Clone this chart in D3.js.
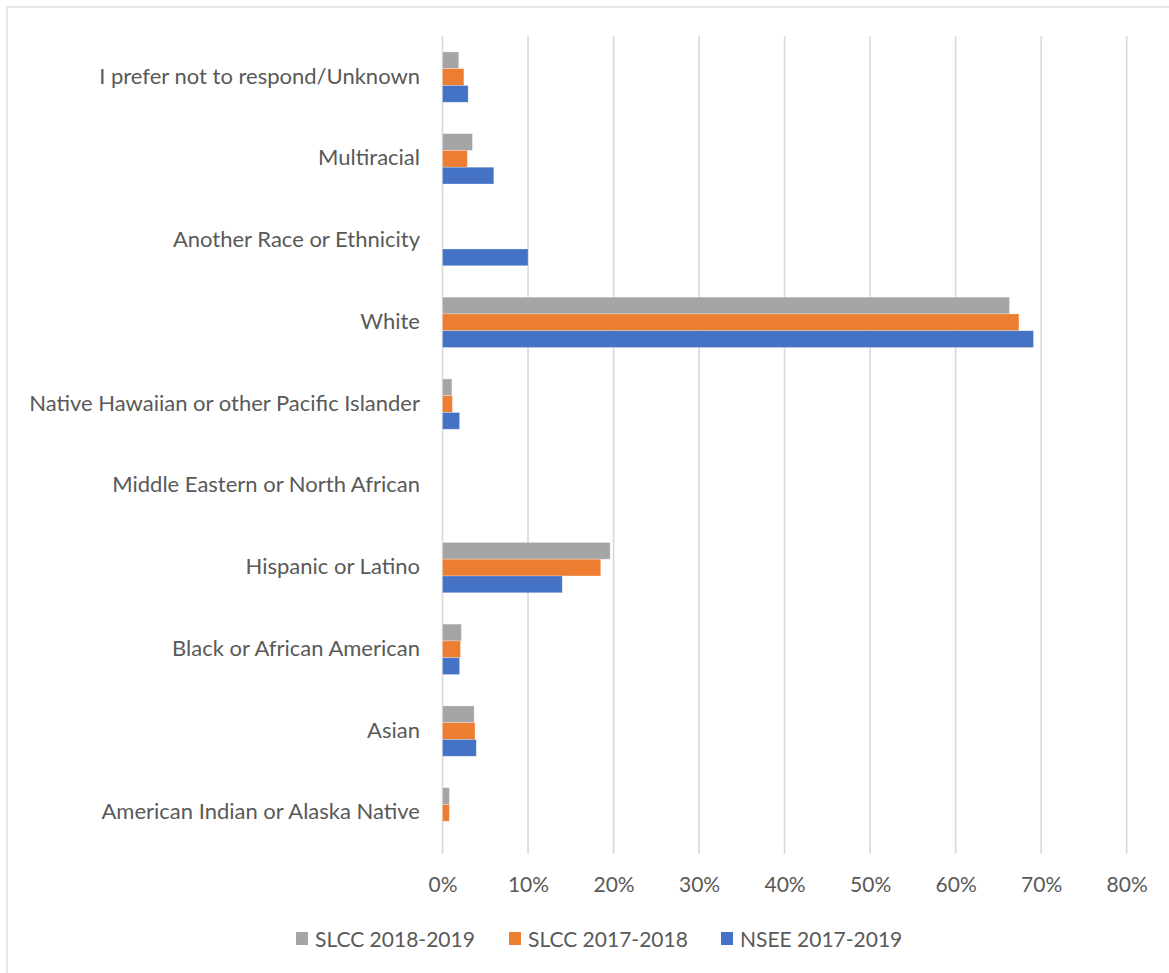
<!DOCTYPE html>
<html>
<head>
<meta charset="utf-8">
<script src="https://cdn.jsdelivr.net/npm/d3@7"></script>
<style>
  html, body { margin: 0; padding: 0; background: #fff; }
  svg { display: block; }
  text { font-family: Lato, "Open Sans", sans-serif; fill: #595959; }
</style>
</head>
<body>
<svg id="chart" width="1169" height="973"></svg>
<script>
// Race / ethnicity categories, top to bottom
const categories = [
  "I prefer not to respond/Unknown",
  "Multiracial",
  "Another Race or Ethnicity",
  "White",
  "Native Hawaiian or other Pacific Islander",
  "Middle Eastern or North African",
  "Hispanic or Latino",
  "Black or African American",
  "Asian",
  "American Indian or Alaska Native"
];

// Share of respondents (%) per series, in category order (null = no bar)
const slcc2018_2019 = [1.9, 3.5, null, 66.3, 1.1, null, 19.6, 2.2, 3.7, 0.8];
const slcc2017_2018 = [2.5, 2.9, null, 67.4, 1.15, null, 18.5, 2.1, 3.8, 0.8];
const nsee2017_2019 = [3.0, 6.0, 10.0, 69.1, 2.0, null, 14.0, 2.0, 3.95, null];

const seriesNames = ["SLCC 2018-2019", "SLCC 2017-2018", "NSEE 2017-2019"];
const seriesColors = ["#A5A5A5", "#ED7D31", "#4472C4"];
const tickValues = [0, 10, 20, 30, 40, 50, 60, 70, 80];

const series = [slcc2018_2019, slcc2017_2018, nsee2017_2019];

const svg = d3.select("#chart");

// outer chart frame
svg.append("rect")
  .attr("x", 7).attr("y", 7)
  .attr("width", 1300).attr("height", 1100)
  .attr("fill", "none").attr("stroke", "#D9D9D9").attr("stroke-width", 1.3);

const plot = { left: 442.5, right: 1126.7, top: 36.2, bottom: 853.7 };

const x = d3.scaleLinear().domain([0, 80]).range([plot.left, plot.right]);
const y = d3.scaleBand().domain(categories)
  .range([plot.top, plot.bottom])
  .paddingInner(0.384).paddingOuter(0.192);
const ySub = d3.scaleBand().domain(d3.range(series.length)).range([0, y.bandwidth()]);

// vertical gridlines
svg.append("g")
  .selectAll("line")
  .data(tickValues)
  .join("line")
  .attr("x1", d => x(d)).attr("x2", d => x(d))
  .attr("y1", plot.top).attr("y2", plot.bottom)
  .attr("stroke", "#D9D9D9").attr("stroke-width", 1.6);

// bars
const rows = [];
categories.forEach((c, i) => {
  series.forEach((s, k) => {
    if (s[i] != null) rows.push({ cat: c, k, v: s[i] });
  });
});

svg.append("g")
  .selectAll("rect")
  .data(rows)
  .join("rect")
  .attr("x", x(0))
  .attr("y", d => y(d.cat) + ySub(d.k))
  .attr("width", d => x(d.v) - x(0))
  .attr("height", ySub.bandwidth())
  .attr("fill", d => seriesColors[d.k])
  .attr("stroke", "#ffffff").attr("stroke-opacity", 0.35).attr("stroke-width", 0.8);

// category labels
const yAxis = d3.axisLeft(y).tickSize(0).tickPadding(0);
const gy = svg.append("g").attr("transform", `translate(${420},0)`).call(yAxis);
gy.select(".domain").remove();
gy.selectAll("text")
  .style("font-family", "Lato, 'Open Sans', sans-serif")
  .attr("font-size", 22)
  .attr("fill", "#595959")
  .attr("dy", "0.3em");

// percentage tick labels
const xAxis = d3.axisBottom(x).tickValues(tickValues).tickSize(0).tickPadding(0)
  .tickFormat(d => d + "%");
const gx = svg.append("g").attr("transform", `translate(0,${877})`).call(xAxis);
gx.select(".domain").remove();
gx.selectAll("text")
  .style("font-family", "Lato, 'Open Sans', sans-serif")
  .attr("font-size", 21)
  .attr("fill", "#595959")
  .attr("dy", "0.72em");

// legend
const legendX = [296, 509, 721];
const legend = svg.append("g")
  .selectAll("g")
  .data(seriesNames)
  .join("g")
  .attr("transform", (d, i) => `translate(${legendX[i]},${932})`);
legend.append("rect")
  .attr("width", 12).attr("height", 13)
  .attr("fill", (d, i) => seriesColors[i]);
legend.append("text")
  .attr("x", 19).attr("y", 7)
  .attr("dy", "0.36em")
  .attr("font-size", 21)
  .text(d => d);
</script>
</body>
</html>
